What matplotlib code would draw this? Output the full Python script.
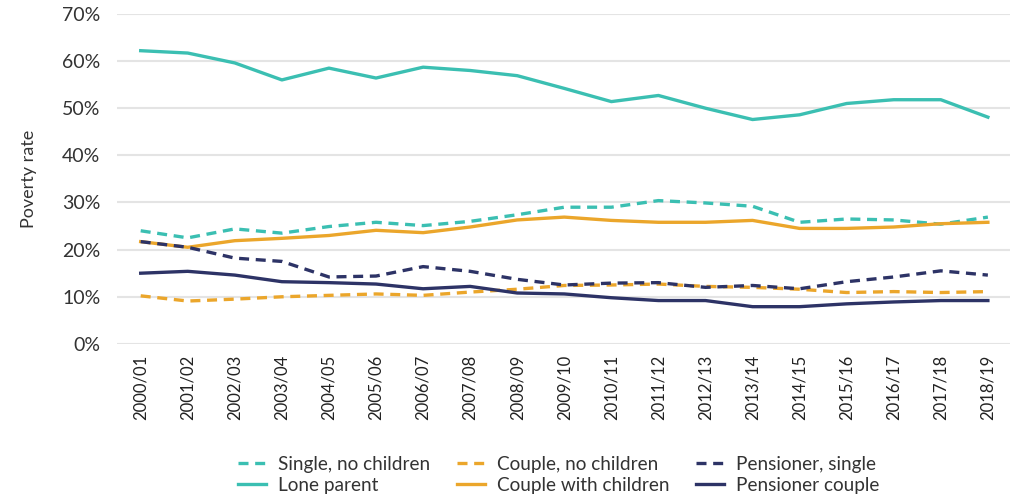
import matplotlib
matplotlib.use("Agg")
import matplotlib.pyplot as plt
import numpy as np

plt.rcParams['font.family'] = ['Lato', 'DejaVu Sans']

years = ["2000/01", "2001/02", "2002/03", "2003/04", "2004/05", "2005/06", "2006/07",
         "2007/08", "2008/09", "2009/10", "2010/11", "2011/12", "2012/13", "2013/14",
         "2014/15", "2015/16", "2016/17", "2017/18", "2018/19"]

single_no_children = [24.0, 22.5, 24.4, 23.5, 24.9, 25.8, 25.1, 26.0, 27.4, 29.0,
                      29.0, 30.4, 29.9, 29.2, 25.8, 26.5, 26.3, 25.4, 26.9]
lone_parent = [62.2, 61.7, 59.6, 56.0, 58.5, 56.4, 58.7, 58.0, 56.9, 54.2,
               51.4, 52.7, 50.0, 47.6, 48.6, 51.0, 51.8, 51.8, 48.1]
couple_no_children = [10.2, 9.1, 9.5, 10.0, 10.3, 10.6, 10.3, 11.0, 11.6, 12.4,
                      12.5, 12.7, 12.2, 12.0, 11.6, 10.9, 11.1, 10.9, 11.1]
couple_with_children = [21.7, 20.5, 21.9, 22.4, 23.0, 24.1, 23.6, 24.8, 26.3, 26.9,
                        26.2, 25.8, 25.8, 26.2, 24.5, 24.5, 24.8, 25.5, 25.8]
pensioner_single = [21.7, 20.5, 18.2, 17.5, 14.2, 14.4, 16.4, 15.4, 13.7, 12.5,
                    12.9, 13.0, 12.0, 12.4, 11.7, 13.2, 14.2, 15.5, 14.6]
pensioner_couple = [15.0, 15.4, 14.6, 13.2, 13.0, 12.7, 11.7, 12.2, 10.8, 10.6,
                    9.8, 9.2, 9.2, 7.9, 7.9, 8.5, 8.9, 9.2, 9.2]

teal = "#3bbfb2"
orange = "#eba62b"
navy = "#2d3366"

fig = plt.figure(figsize=(10.1, 4.97), dpi=100)
ax = fig.add_axes([0.116, 0.308, 0.884, 0.664])

x = np.arange(len(years))
lw = 2.4
dash = (3, 2)

# order matters for the legend (ncol=3 fills by column)
ax.plot(x, single_no_children, color=teal, lw=lw, ls=(0, dash), label="Single, no children")
ax.plot(x, lone_parent, color=teal, lw=lw, label="Lone parent")
ax.plot(x, couple_no_children, color=orange, lw=lw, ls=(0, dash), label="Couple, no children")
ax.plot(x, couple_with_children, color=orange, lw=lw, label="Couple with children")
ax.plot(x, pensioner_single, color=navy, lw=lw, ls=(0, dash), label="Pensioner, single")
ax.plot(x, pensioner_couple, color=navy, lw=lw, label="Pensioner couple")

ax.set_ylim(0, 70)
ax.set_xlim(-0.5, 18.47)
ax.set_yticks(np.arange(0, 71, 10))
ax.set_yticklabels([f"{v}%" for v in range(0, 71, 10)], fontsize=14, color="#333333")
ax.set_xticks(x)
ax.set_xticklabels(years, rotation=90, fontsize=12, color="#222222")
ax.tick_params(length=0, pad=8)
ax.tick_params(axis='y', pad=12)

ax.grid(axis='y', color="#e4e4e4", lw=1.5)
ax.set_axisbelow(True)
for s in ax.spines.values():
    s.set_visible(False)

ax.set_ylabel("Poverty rate", fontsize=13, color="#333333", labelpad=18)

leg = fig.legend(loc="lower center", bbox_to_anchor=(0.553, -0.02), ncol=3, frameon=False,
                 fontsize=13.7, handlelength=1.5, columnspacing=1.4, labelspacing=0.2,
                 handletextpad=0.6, borderaxespad=0.3)
for t in leg.get_texts():
    t.set_color("#333333")

fig.savefig("out.png", dpi=100)
